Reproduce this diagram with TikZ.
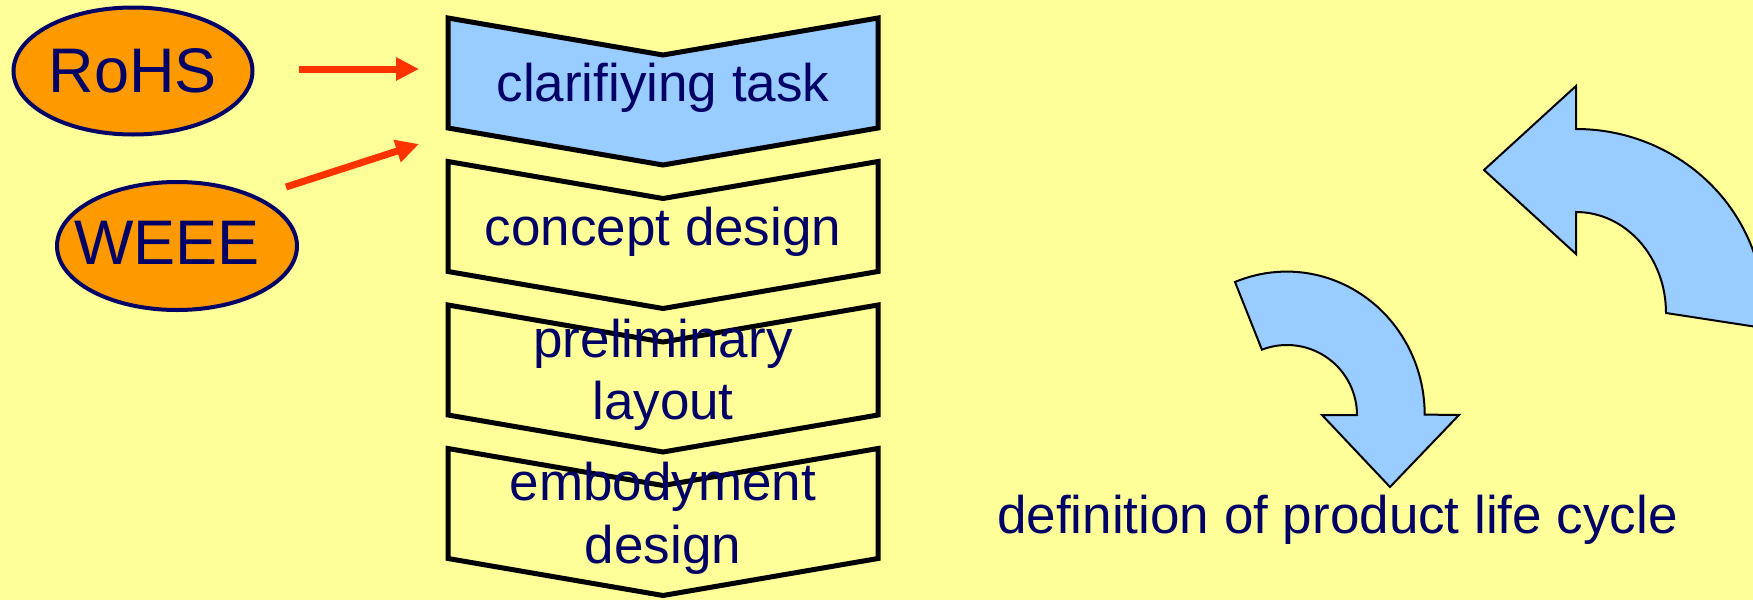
\documentclass[tikz,border=0pt]{standalone}
\usepackage{fontspec}
\setmainfont{Liberation Sans}
\usetikzlibrary{shapes.geometric,arrows.meta}
\definecolor{bg}{HTML}{FFFF99}
\definecolor{navy}{HTML}{000066}
\definecolor{lblue}{HTML}{99CCFF}
\definecolor{orng}{HTML}{FF9900}
\definecolor{redarr}{HTML}{FF3300}
\begin{document}
\begin{tikzpicture}[x=0.5pt,y=-0.5pt,
  chev/.style={draw=black,line width=2.5pt,line join=miter},
  lbl/.style={anchor=base,inner sep=0pt,text=navy,font=\fontsize{26.5pt}{31pt}\selectfont},
  oval/.style={ellipse,draw=navy,line width=2pt,fill=orng,inner sep=0pt,text=navy,font=\fontsize{31.5pt}{36pt}\selectfont},
  ovaltext/.style={inner sep=0pt,text=navy,font=\fontsize{31.5pt}{36pt}\selectfont},
  redarrow/.style={draw=redarr,line width=3.5pt,-{Triangle[length=11.5pt,width=11pt]}},
  curved/.style={draw=black,line width=1pt,fill=lblue,line join=miter}]
\useasboundingbox (0,0) rectangle (1753,600);
\fill[bg] (0,0) rectangle (1753,600);
\clip (0,0) rectangle (1753,600);

% ovals
\node[oval,minimum width=119.5pt,minimum height=63.5pt] (rohs) at (133,71) {RoHS};
\node[oval,minimum width=120pt,minimum height=64pt] (weee) at (177,246) {};
\node[ovaltext] (weeetext) at (167,243) {WEEE};

% red arrows
\coordinate (r1s) at (299,69);
\coordinate (r1e) at (419,69);
\coordinate (r2s) at (286,187);
\coordinate (r2e) at (419,144);
\draw[redarrow] (r1s) -- (r1e);
\draw[redarrow] (r2s) -- (r2e);

% chevrons
\foreach \t/\f in {18/lblue,161.5/bg,305/bg,448.5/bg}
  \draw[chev,fill=\f] (448,\t) -- (663,\t+37) -- (878,\t) -- (878,\t+110)
     -- (663,\t+147) -- (448,\t+110) -- cycle;

\node[lbl] (t1) at (663,101.5) {clarifiying task};
\node[lbl] (t2) at (663,245) {concept design};
\node[lbl] (t3a) at (663,357) {preliminary};
\node[lbl] (t3b) at (663,419) {layout};
\node[lbl] (t4a) at (663,500) {embodyment};
\node[lbl] (t4b) at (663,563) {design};

% curved arrows
\draw[curved] (1235,282) arc[start angle=-112, end angle=0, x radius=138, y radius=143]
  -- (1459,415) -- (1390,487) -- (1322,415) -- (1357,415)
  arc[start angle=0, end angle=-111, radius=70] -- cycle;

\draw[curved] (1484,170) -- (1576,86) -- (1576,129)
  arc[start angle=-90, end angle=5, x radius=188, y radius=183]
  -- (1666,313) arc[start angle=0, end angle=-90, x radius=90, y radius=101]
  -- (1576,254) -- cycle;

\node[lbl] (def) at (1337.5,533) {definition of product life cycle};
\end{tikzpicture}
\end{document}
